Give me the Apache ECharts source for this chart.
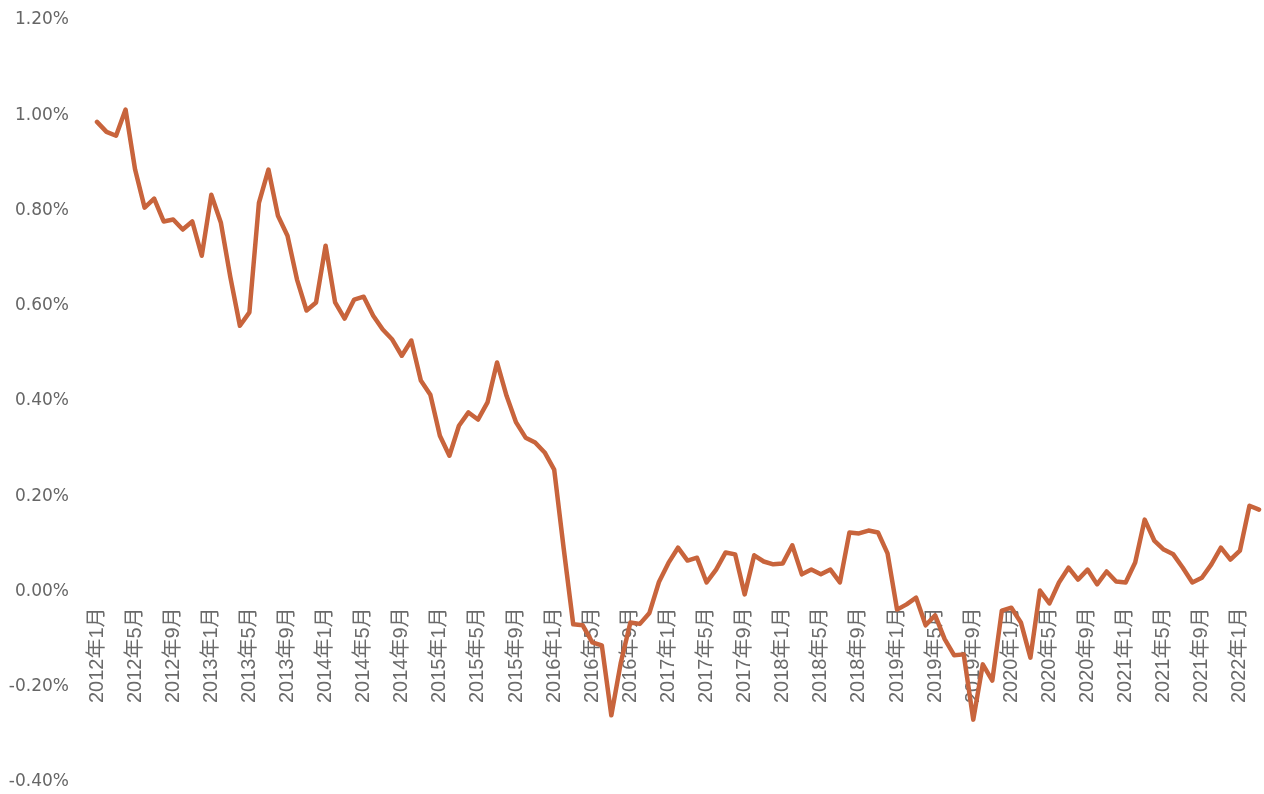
<!DOCTYPE html>
<html>
<head>
<meta charset="utf-8">
<script src="https://cdn.jsdelivr.net/npm/echarts@6/dist/echarts.min.js"></script>
<style>
html,body{margin:0;padding:0;background:#fff;}
#chart{width:1264px;height:794px;}
</style>
</head>
<body>
<div id="chart"></div>
<script>
// Monthly categories: 2012年1月 … 2022年3月
const startYear = 2012;
const monthCount = 123;
const categories = [];
for (let k = 0; k < monthCount; k++) {
  const y = startYear + Math.floor(k / 12);
  const m = (k % 12) + 1;
  categories.push(y + '年' + m + '月');
}

// Values in percent
const values2012 = [0.986, 0.965, 0.957, 1.012, 0.886, 0.806, 0.825, 0.777, 0.781, 0.760, 0.777, 0.705];
const values2013 = [0.833, 0.775, 0.660, 0.558, 0.586, 0.816, 0.886, 0.789, 0.747, 0.655, 0.590, 0.607];
const values2014 = [0.726, 0.607, 0.573, 0.613, 0.619, 0.579, 0.550, 0.529, 0.495, 0.527, 0.443, 0.413];
const values2015 = [0.327, 0.285, 0.348, 0.376, 0.361, 0.397, 0.481, 0.411, 0.355, 0.323, 0.313, 0.292];
const values2016 = [0.256, 0.090, -0.069, -0.071, -0.107, -0.113, -0.260, -0.149, -0.065, -0.068, -0.045, 0.020];
const values2017 = [0.060, 0.092, 0.065, 0.071, 0.019, 0.046, 0.082, 0.078, -0.006, 0.076, 0.063, 0.057];
const values2018 = [0.059, 0.097, 0.036, 0.046, 0.036, 0.046, 0.019, 0.124, 0.122, 0.128, 0.124, 0.080];
const values2019 = [-0.038, -0.027, -0.013, -0.071, -0.050, -0.100, -0.134, -0.132, -0.269, -0.153, -0.187, -0.040];
const values2020 = [-0.034, -0.065, -0.139, 0.002, -0.025, 0.019, 0.050, 0.025, 0.046, 0.015, 0.042, 0.021];
const values2021 = [0.019, 0.061, 0.151, 0.107, 0.088, 0.078, 0.050, 0.019, 0.029, 0.057, 0.092, 0.067];
const values2022 = [0.086, 0.180, 0.172];

const seriesValues = [].concat(values2012, values2013, values2014, values2015, values2016,
  values2017, values2018, values2019, values2020, values2021, values2022);

const yMin = -0.4, yMax = 1.2, yStep = 0.2;

const W = 1264, H = 794;
const gridTop = 20, gridBottom = 12;
const gridHeight = H - gridTop - gridBottom;
// move the category axis (labels) up to the zero line of the value axis
const zeroOffset = -gridHeight * (0 - yMin) / (yMax - yMin);

const chart = echarts.init(document.getElementById('chart'), null, {renderer: 'canvas'});
chart.setOption({
  backgroundColor: '#ffffff',
  animation: false,
  grid: {left: 97, right: 5, top: gridTop, bottom: gridBottom, containLabel: false, outerBoundsMode: 'none'},
  xAxis: {
    type: 'category',
    data: categories,
    boundaryGap: false,
    position: 'bottom',
    offset: zeroOffset,
    axisLine: {show: false, onZero: false},
    axisTick: {show: false},
    splitLine: {show: false},
    axisLabel: {
      interval: 3,
      rotate: 90,
      margin: 16,
      fontSize: 20,
      color: '#6a6a6a',
      fontFamily: "'Liberation Sans', 'Noto Sans CJK SC', sans-serif"
    }
  },
  yAxis: {
    type: 'value',
    min: yMin,
    max: yMax,
    interval: yStep,
    axisLine: {show: false},
    axisTick: {show: false},
    splitLine: {show: false},
    axisLabel: {
      margin: 28,
      fontSize: 17,
      color: '#666666',
      fontFamily: "'DejaVu Sans', sans-serif",
      formatter: v => v.toFixed(2) + '%'
    }
  },
  series: [{
    type: 'line',
    data: seriesValues,
    symbol: 'none',
    smooth: false,
    lineStyle: {color: '#C8643C', width: 4.5, join: 'round', cap: 'round'},
    itemStyle: {color: '#C8643C'}
  }]
});
</script>
</body>
</html>
